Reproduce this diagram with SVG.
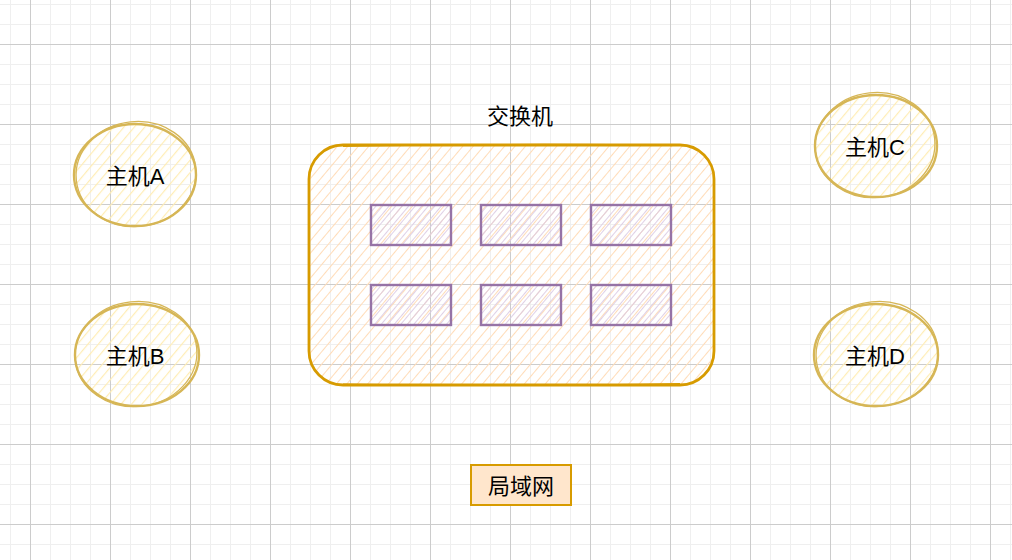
<svg xmlns="http://www.w3.org/2000/svg" width="1012" height="560" viewBox="0 0 1012 560">
<defs>
<pattern id="gminor" width="20" height="20" patternUnits="userSpaceOnUse" x="10" y="4">
<path d="M0 0H20M0 0V20" stroke="#efefef" stroke-width="2" fill="none"/>
</pattern>
<pattern id="gmajor" width="80" height="80" patternUnits="userSpaceOnUse" x="30" y="44">
<path d="M0 0.5H80M0.5 0V80" stroke="#cccccc" stroke-width="1" fill="none"/>
</pattern>
<pattern id="hOrange" width="8" height="8" patternUnits="userSpaceOnUse" patternTransform="rotate(40)">
<line x1="0" y1="0" x2="0" y2="8" stroke="#ffdcb8" stroke-width="2"/>
</pattern>
<pattern id="hYellow" width="8" height="8" patternUnits="userSpaceOnUse" patternTransform="rotate(40)">
<line x1="0" y1="0" x2="0" y2="8" stroke="#ffedb5" stroke-width="2.4"/>
</pattern>
<pattern id="hPurple" width="5" height="5" patternUnits="userSpaceOnUse" patternTransform="rotate(40)">
<line x1="0" y1="0" x2="0" y2="5" stroke="#dccbe4" stroke-width="1.8"/>
</pattern>
</defs>
<style>
.t{font-family:"Liberation Sans","Noto Sans CJK SC",sans-serif;font-size:22px;fill:#000;text-anchor:middle;dominant-baseline:central}
.host{fill:url(#hYellow);stroke:#d6b656;stroke-width:2.4}
.host2{fill:none;stroke:#d6b656;stroke-width:1.3}
.port{fill:url(#hPurple);stroke:#9673a6;stroke-width:2.4}
</style>
<rect width="1012" height="560" fill="#ffffff"/>
<rect width="1012" height="560" fill="url(#gminor)"/>
<rect width="1012" height="560" fill="url(#gmajor)"/>

<g id="switch">
<rect x="309" y="145" width="405" height="240" rx="34" ry="34" fill="url(#hOrange)" stroke="#d79b00" stroke-width="2.8"/>
<path d="M343 146.5 Q520 143 680 145.5" fill="none" stroke="#d79b00" stroke-width="1.2"/>
<path d="M343 384 Q520 386.5 680 383.5" fill="none" stroke="#d79b00" stroke-width="1.2"/>
<text class="t" x="520" y="116">交换机</text>
</g>
<g id="port1"><rect class="port" x="371" y="205" width="80" height="40"/></g>
<g id="port2"><rect class="port" x="481" y="205" width="80" height="40"/></g>
<g id="port3"><rect class="port" x="591" y="205" width="80" height="40"/></g>
<g id="port4"><rect class="port" x="371" y="285" width="80" height="40"/></g>
<g id="port5"><rect class="port" x="481" y="285" width="80" height="40"/></g>
<g id="port6"><rect class="port" x="591" y="285" width="80" height="40"/></g>

<g id="hostA">
<ellipse class="host" cx="135" cy="175" rx="61" ry="51"/>
<ellipse class="host2" cx="136" cy="174" rx="60" ry="52.5" transform="rotate(-6 136 174)"/>
<text class="t" x="135" y="176">主机A</text>
</g>
<g id="hostB">
<ellipse class="host" cx="137" cy="355" rx="62" ry="51"/>
<ellipse class="host2" cx="136" cy="354" rx="61" ry="52.5" transform="rotate(-6 136 354)"/>
<text class="t" x="135" y="356">主机B</text>
</g>
<g id="hostC">
<ellipse class="host" cx="876" cy="146" rx="61" ry="51"/>
<ellipse class="host2" cx="875" cy="145" rx="60" ry="52.5" transform="rotate(-6 875 145)"/>
<text class="t" x="875" y="147">主机C</text>
</g>
<g id="hostD">
<ellipse class="host" cx="876" cy="355" rx="62" ry="51"/>
<ellipse class="host2" cx="877" cy="354" rx="61" ry="52.5" transform="rotate(-6 877 354)"/>
<text class="t" x="875" y="356">主机D</text>
</g>

<g id="lan">
<rect x="471" y="465" width="100" height="40" fill="#ffe6cc" stroke="#d79b00" stroke-width="2"/>
<text class="t" x="521" y="486">局域网</text>
</g>
<g id="connectors"></g>
</svg>
